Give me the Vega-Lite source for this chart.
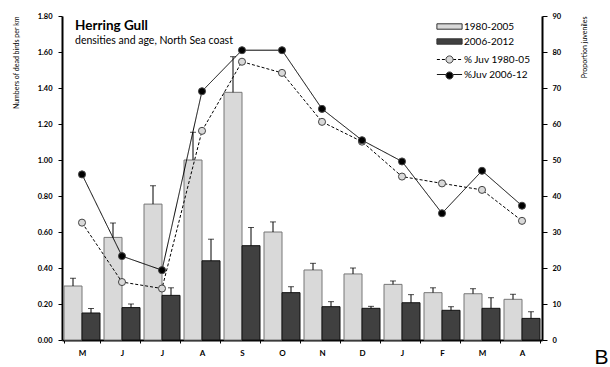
{
  "$schema": "https://vega.github.io/schema/vega-lite/v6.json",
  "width": 480,
  "height": 324,
  "autosize": {"type": "none"},
  "padding": {"left": 62, "top": 16, "right": 68, "bottom": 27},
  "background": "white",
  "config": {
    "font": "Lato",
    "view": {"stroke": null},
    "axis": {"grid": false, "domainColor": "black", "domainWidth": 2, "tickColor": "black", "labelColor": "black", "titleColor": "black", "labelFontWeight": "bold", "labelFontSize": 7.5},
    "legend": {"labelFontSize": 10, "labelColor": "black", "padding": 0}
  },
  "title": {
    "text": "Herring Gull",
    "subtitle": "densities and age, North Sea coast",
    "anchor": "start",
    "frame": "group",
    "orient": "top",
    "offset": -34,
    "dx": 13,
    "fontSize": 13.5,
    "fontWeight": "bold",
    "subtitleFontSize": 10.5,
    "subtitleColor": "black",
    "color": "black",
    "subtitlePadding": 3
  },
  "datasets": {
    "bars": [
      {"month": "May", "period": "1980-2005", "value": 0.30, "upper": 0.343},
      {"month": "Jun", "period": "1980-2005", "value": 0.57, "upper": 0.65},
      {"month": "Jul", "period": "1980-2005", "value": 0.755, "upper": 0.857},
      {"month": "Aug", "period": "1980-2005", "value": 1.00, "upper": 1.154},
      {"month": "Sep", "period": "1980-2005", "value": 1.376, "upper": 1.574},
      {"month": "Oct", "period": "1980-2005", "value": 0.60, "upper": 0.656},
      {"month": "Nov", "period": "1980-2005", "value": 0.389, "upper": 0.426},
      {"month": "Dec", "period": "1980-2005", "value": 0.367, "upper": 0.40},
      {"month": "Jan", "period": "1980-2005", "value": 0.309, "upper": 0.328},
      {"month": "Feb", "period": "1980-2005", "value": 0.263, "upper": 0.29},
      {"month": "Mar", "period": "1980-2005", "value": 0.257, "upper": 0.285},
      {"month": "Apr", "period": "1980-2005", "value": 0.226, "upper": 0.254},
      {"month": "May", "period": "2006-2012", "value": 0.15, "upper": 0.175},
      {"month": "Jun", "period": "2006-2012", "value": 0.18, "upper": 0.20},
      {"month": "Jul", "period": "2006-2012", "value": 0.248, "upper": 0.29},
      {"month": "Aug", "period": "2006-2012", "value": 0.44, "upper": 0.56},
      {"month": "Sep", "period": "2006-2012", "value": 0.524, "upper": 0.625},
      {"month": "Oct", "period": "2006-2012", "value": 0.263, "upper": 0.296},
      {"month": "Nov", "period": "2006-2012", "value": 0.185, "upper": 0.213},
      {"month": "Dec", "period": "2006-2012", "value": 0.176, "upper": 0.187},
      {"month": "Jan", "period": "2006-2012", "value": 0.207, "upper": 0.252},
      {"month": "Feb", "period": "2006-2012", "value": 0.165, "upper": 0.185},
      {"month": "Mar", "period": "2006-2012", "value": 0.176, "upper": 0.235},
      {"month": "Apr", "period": "2006-2012", "value": 0.12, "upper": 0.157}
    ],
    "lines": [
      {"month": "May", "series": "% Juv 1980-05", "pct": 32.6},
      {"month": "Jun", "series": "% Juv 1980-05", "pct": 16.1},
      {"month": "Jul", "series": "% Juv 1980-05", "pct": 14.3},
      {"month": "Aug", "series": "% Juv 1980-05", "pct": 58.1},
      {"month": "Sep", "series": "% Juv 1980-05", "pct": 77.3},
      {"month": "Oct", "series": "% Juv 1980-05", "pct": 74.2},
      {"month": "Nov", "series": "% Juv 1980-05", "pct": 60.6},
      {"month": "Dec", "series": "% Juv 1980-05", "pct": 55.1},
      {"month": "Jan", "series": "% Juv 1980-05", "pct": 45.4},
      {"month": "Feb", "series": "% Juv 1980-05", "pct": 43.5},
      {"month": "Mar", "series": "% Juv 1980-05", "pct": 41.7},
      {"month": "Apr", "series": "% Juv 1980-05", "pct": 33.1},
      {"month": "May", "series": "%Juv 2006-12", "pct": 46.0},
      {"month": "Jun", "series": "%Juv 2006-12", "pct": 23.3},
      {"month": "Jul", "series": "%Juv 2006-12", "pct": 19.4},
      {"month": "Aug", "series": "%Juv 2006-12", "pct": 69.1},
      {"month": "Sep", "series": "%Juv 2006-12", "pct": 80.5},
      {"month": "Oct", "series": "%Juv 2006-12", "pct": 80.5},
      {"month": "Nov", "series": "%Juv 2006-12", "pct": 64.2},
      {"month": "Dec", "series": "%Juv 2006-12", "pct": 55.5},
      {"month": "Jan", "series": "%Juv 2006-12", "pct": 49.6},
      {"month": "Feb", "series": "%Juv 2006-12", "pct": 35.2},
      {"month": "Mar", "series": "%Juv 2006-12", "pct": 47.0},
      {"month": "Apr", "series": "%Juv 2006-12", "pct": 37.3}
    ]
  },
  "encoding": {
    "x": {
      "field": "month",
      "type": "nominal",
      "sort": ["May", "Jun", "Jul", "Aug", "Sep", "Oct", "Nov", "Dec", "Jan", "Feb", "Mar", "Apr"],
      "scale": {"paddingInner": 0.1, "paddingOuter": 0.05},
      "axis": {
        "labelExpr": "substring(datum.label, 0, 1)",
        "labelAngle": 0,
        "labelFontSize": 8,
        "labelPadding": 6,
        "tickBand": "extent",
        "tickSize": 3,
        "title": "B",
        "titleFont": "Liberation Sans",
        "titleFontWeight": "normal",
        "titleFontSize": 21,
        "titleX": 539,
        "titleY": 23,
        "titleAlign": "center",
        "titleBaseline": "alphabetic"
      }
    }
  },
  "layer": [
    {
      "data": {"name": "bars"},
      "encoding": {
        "xOffset": {"field": "period", "type": "nominal", "scale": {"paddingInner": 0, "paddingOuter": 0}},
        "y": {
          "field": "value",
          "type": "quantitative",
          "scale": {"domain": [0, 1.8]},
          "axis": {
            "values": [0, 0.2, 0.4, 0.6, 0.8, 1.0, 1.2, 1.4, 1.6, 1.8],
            "format": ".2f",
            "tickSize": 4,
            "labelPadding": 6,
            "title": "Numbers of dead birds per km",
            "titleFont": "Lato",
            "titleFontWeight": "normal",
            "titleFontSize": 7,
            "titleAnchor": "end",
            "titlePadding": 18
          }
        }
      },
      "layer": [
        {
          "mark": {"type": "bar", "strokeWidth": 1},
          "encoding": {
            "fill": {
              "field": "period",
              "type": "nominal",
              "scale": {"domain": ["1980-2005", "2006-2012"], "range": ["#d9d9d9", "#404040"]},
              "legend": {
                "title": null,
                "orient": "none",
                "legendX": 381,
                "legendY": 4,
                "symbolType": "M-2.1,-0.45H2.1V0.45H-2.1Z",
                "symbolSize": 144,
                "symbolStrokeColor": "#333",
                "symbolStrokeWidth": 1,
                "rowPadding": 3,
                "labelOffset": 8
              }
            },
            "stroke": {
              "field": "period",
              "type": "nominal",
              "scale": {"domain": ["1980-2005", "2006-2012"], "range": ["#777777", "#111111"]},
              "legend": null
            }
          }
        },
        {
          "mark": {"type": "rule", "color": "black", "strokeWidth": 1},
          "encoding": {"y2": {"field": "upper"}}
        },
        {
          "mark": {"type": "tick", "color": "black", "thickness": 1, "size": 6},
          "encoding": {"y": {"field": "upper", "type": "quantitative"}}
        }
      ]
    },
    {
      "data": {"name": "lines"},
      "encoding": {
        "y": {
          "field": "pct",
          "type": "quantitative",
          "scale": {"domain": [0, 90]},
          "axis": {
            "orient": "right",
            "values": [0, 10, 20, 30, 40, 50, 60, 70, 80, 90],
            "tickSize": 5,
            "labelPadding": 5,
            "title": "Proportion juveniles",
            "titleFont": "Lato",
            "titleFontWeight": "normal",
            "titleFontSize": 7,
            "titleAngle": 270,
            "titleAnchor": "end",
            "titlePadding": 27
          }
        }
      },
      "layer": [
        {
          "mark": {"type": "line", "color": "black", "strokeWidth": 1},
          "encoding": {
            "strokeDash": {
              "field": "series",
              "type": "nominal",
              "scale": {"domain": ["% Juv 1980-05", "%Juv 2006-12"], "range": [[3, 2], [1, 0]]},
              "legend": {
                "title": null,
                "orient": "none",
                "legendX": 381,
                "legendY": 37,
                "symbolType": "M-2.1,0H-0.6M0.6,0H2.1",
                "symbolSize": 144,
                "symbolStrokeColor": "black",
                "symbolFillColor": "transparent",
                "symbolStrokeWidth": 1,
                "rowPadding": 3,
                "labelOffset": 8
              }
            }
          }
        },
        {
          "mark": {"type": "point", "filled": true, "size": 50, "strokeWidth": 1, "stroke": "#444", "opacity": 1},
          "encoding": {
            "fill": {
              "field": "series",
              "type": "nominal",
              "scale": {"domain": ["% Juv 1980-05", "%Juv 2006-12"], "range": ["#d9d9d9", "black"]},
              "legend": {
                "title": null,
                "orient": "none",
                "legendX": 381,
                "legendY": 37,
                "symbolType": "M0.6,0A0.6,0.6 0 1,1 -0.6,0A0.6,0.6 0 1,1 0.6,0Z",
                "symbolSize": 144,
                "symbolStrokeColor": "#444",
                "symbolStrokeWidth": 1,
                "rowPadding": 3,
                "labelOffset": 8,
                "labelColor": "transparent"
              }
            }
          }
        }
      ]
    }
  ],
  "resolve": {"scale": {"y": "independent", "fill": "independent"}, "legend": {"fill": "independent"}}
}
